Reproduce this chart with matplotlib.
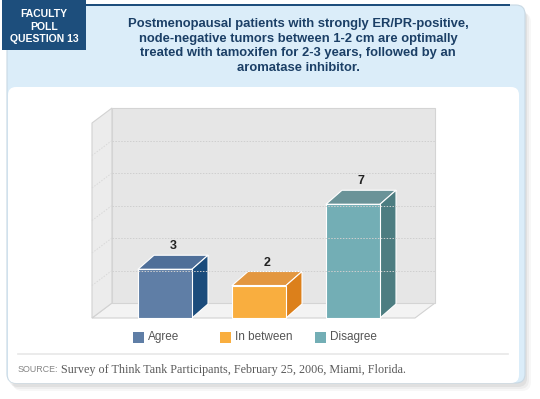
import matplotlib
matplotlib.use("Agg")
import matplotlib.pyplot as plt
import matplotlib.transforms as mtrans
from matplotlib.patches import Rectangle, Polygon, FancyBboxPatch

categories = ["Agree", "In between", "Disagree"]
values = [3, 2, 7]
front_colors = ["#5f7ea6", "#f9ae3f", "#73aeb5"]
top_colors = ["#4f6f99", "#e39740", "#6a9398"]
side_colors = ["#1b4c7c", "#dc801b", "#4d7d81"]
y_max = 12
grid_values = [2, 4, 6, 8, 10, 12]
title = ("Postmenopausal patients with strongly ER/PR-positive,\n"
         "node-negative tumors between 1-2 cm are optimally\n"
         "treated with tamoxifen for 2-3 years, followed by an\n"
         "aromatase inhibitor.")
badge = "FACULTY\nPOLL\nQUESTION 13"
source_label = "SOURCE:"
source_text = " Survey of Think Tank Participants, February 25, 2006, Miami, Florida."

SANS = "Liberation Sans"
W, H = 540, 399
fig = plt.figure(figsize=(W / 100, H / 100), dpi=100)
fig.patch.set_facecolor("white")

# ---------- background layout (pixel space) ----------
bg = fig.add_axes([0, 0, 1, 1])
bg.set_xlim(0, W)
bg.set_ylim(H, 0)
bg.axis("off")

# shadow
for i, a in enumerate([0.05, 0.04, 0.03]):
    bg.add_patch(FancyBboxPatch((9 + i * 2, 9 + i * 2), 518, 378, boxstyle="round,pad=0,rounding_size=9",
                                fc="#000000", ec="none", alpha=a, zorder=0))
# light blue card
bg.add_patch(FancyBboxPatch((7, 5), 518, 378, boxstyle="round,pad=0,rounding_size=9",
                            fc="#dbedf9", ec="#c9d9e4", lw=0.8, zorder=1))
# white panel
bg.add_patch(FancyBboxPatch((8, 87), 511, 296, boxstyle="round,pad=0,rounding_size=8",
                            fc="white", ec="none", zorder=2))
# top dark line
bg.add_patch(Rectangle((80, 4), 430, 2.2, fc="#1d4e7c", ec="none", zorder=3))
# badge
bg.add_patch(Rectangle((2, 0), 84, 50, fc="#1d4e7c", ec="none", zorder=4))
bg.text(44, 26.5, badge, ha="center", va="center", color="white", fontsize=7.5,
        fontweight="bold", family=SANS, linespacing=1.3, zorder=5)
# title
bg.text(298, 46, title, ha="center", va="center", color="#1b3f66", fontsize=9.4,
        fontweight="bold", family=SANS, linespacing=1.3, zorder=5)
# separator
bg.plot([18, 508], [354, 354], color="#e8e8e8", lw=1.2, zorder=3)
t1 = bg.text(18, 370, source_label, ha="left", va="center", color="#858585", fontsize=6.4,
             family=SANS, zorder=5)
fig.canvas.draw()
x_end = t1.get_window_extent().x1
bg.text(x_end, 370, source_text, ha="left", va="center", color="#5a5a5a",
        fontsize=8.75, family="Liberation Serif", zorder=5,
        transform=mtrans.blended_transform_factory(mtrans.IdentityTransform(), bg.transData))

# ---------- 3D bar chart ----------
L, R, B, T = 92, 415, 318, 123  # front plane in pixels
ax = fig.add_axes([L / W, (H - B) / H, (R - L) / W, (B - T) / H])
ax.axis("off")
ax.set_zorder(3)
px_per_x = 94.0
x_left = -73 / px_per_x
x_right = (R - L - 73) / px_per_x
ax.set_xlim(x_left, x_right)
ax.set_ylim(0, y_max)
px_per_y = (B - T) / y_max

wall_dx = 20 / px_per_x
wall_dy = 15 / px_per_y
bar_dx = 16 / px_per_x
bar_dy = 14 / px_per_y
bar_w = 54 / px_per_x

kw = dict(clip_on=False)
# floor
ax.add_patch(Polygon([(x_left, 0), (x_right, 0), (x_right + wall_dx, wall_dy), (x_left + wall_dx, wall_dy)],
                     fc="#f3f3f3", ec="#d2d2d2", lw=0.8, **kw))
# left wall
ax.add_patch(Polygon([(x_left, 0), (x_left + wall_dx, wall_dy), (x_left + wall_dx, y_max + wall_dy), (x_left, y_max)],
                     fc="#ececec", ec="#d2d2d2", lw=0.8, **kw))
# back wall
ax.add_patch(Polygon([(x_left + wall_dx, wall_dy), (x_right + wall_dx, wall_dy),
                      (x_right + wall_dx, y_max + wall_dy), (x_left + wall_dx, y_max + wall_dy)],
                     fc="#e6e6e6", ec="#d4d4d4", lw=0.8, **kw))
for g in grid_values[:-1]:
    ax.plot([x_left + wall_dx, x_right + wall_dx], [g + wall_dy, g + wall_dy], color="#cfcfcf",
            lw=0.7, ls=(0, (1.5, 1.5)), **kw)
    ax.plot([x_left, x_left + wall_dx], [g, g + wall_dy], color="#d8d8d8",
            lw=0.7, ls=(0, (1.5, 1.5)), **kw)

for i, (v, fc, tc, sc) in enumerate(zip(values, front_colors, top_colors, side_colors)):
    x0 = i - bar_w / 2
    x1 = i + bar_w / 2
    ax.add_patch(Polygon([(x0, v), (x1, v), (x1 + bar_dx, v + bar_dy), (x0 + bar_dx, v + bar_dy)],
                         fc=tc, ec="white", lw=0.8, joinstyle="round", **kw))
    ax.add_patch(Polygon([(x1, 0), (x1 + bar_dx, bar_dy), (x1 + bar_dx, v + bar_dy), (x1, v)],
                         fc=sc, ec="white", lw=0.8, joinstyle="round", **kw))
    ax.add_patch(Rectangle((x0, 0), bar_w, v, fc=fc, ec="white", lw=0.8, **kw))
    ax.text(i + bar_dx / 2, v + bar_dy + 9 / px_per_y, str(v), ha="center", va="center",
            fontsize=9, fontweight="bold", color="#222222", family=SANS, **kw)

# legend
leg_x = [133, 220, 315]
leg_y = 337
for lx, name, fc in zip(leg_x, categories, front_colors):
    bg.add_patch(Rectangle((lx, leg_y - 5.5), 11, 11, fc=fc, ec="none", zorder=5))
    bg.text(lx + 15, leg_y, name, ha="left", va="center", fontsize=8.5, color="#555555",
            family=SANS, zorder=5)

fig.savefig("out.png", dpi=100, facecolor="white")
